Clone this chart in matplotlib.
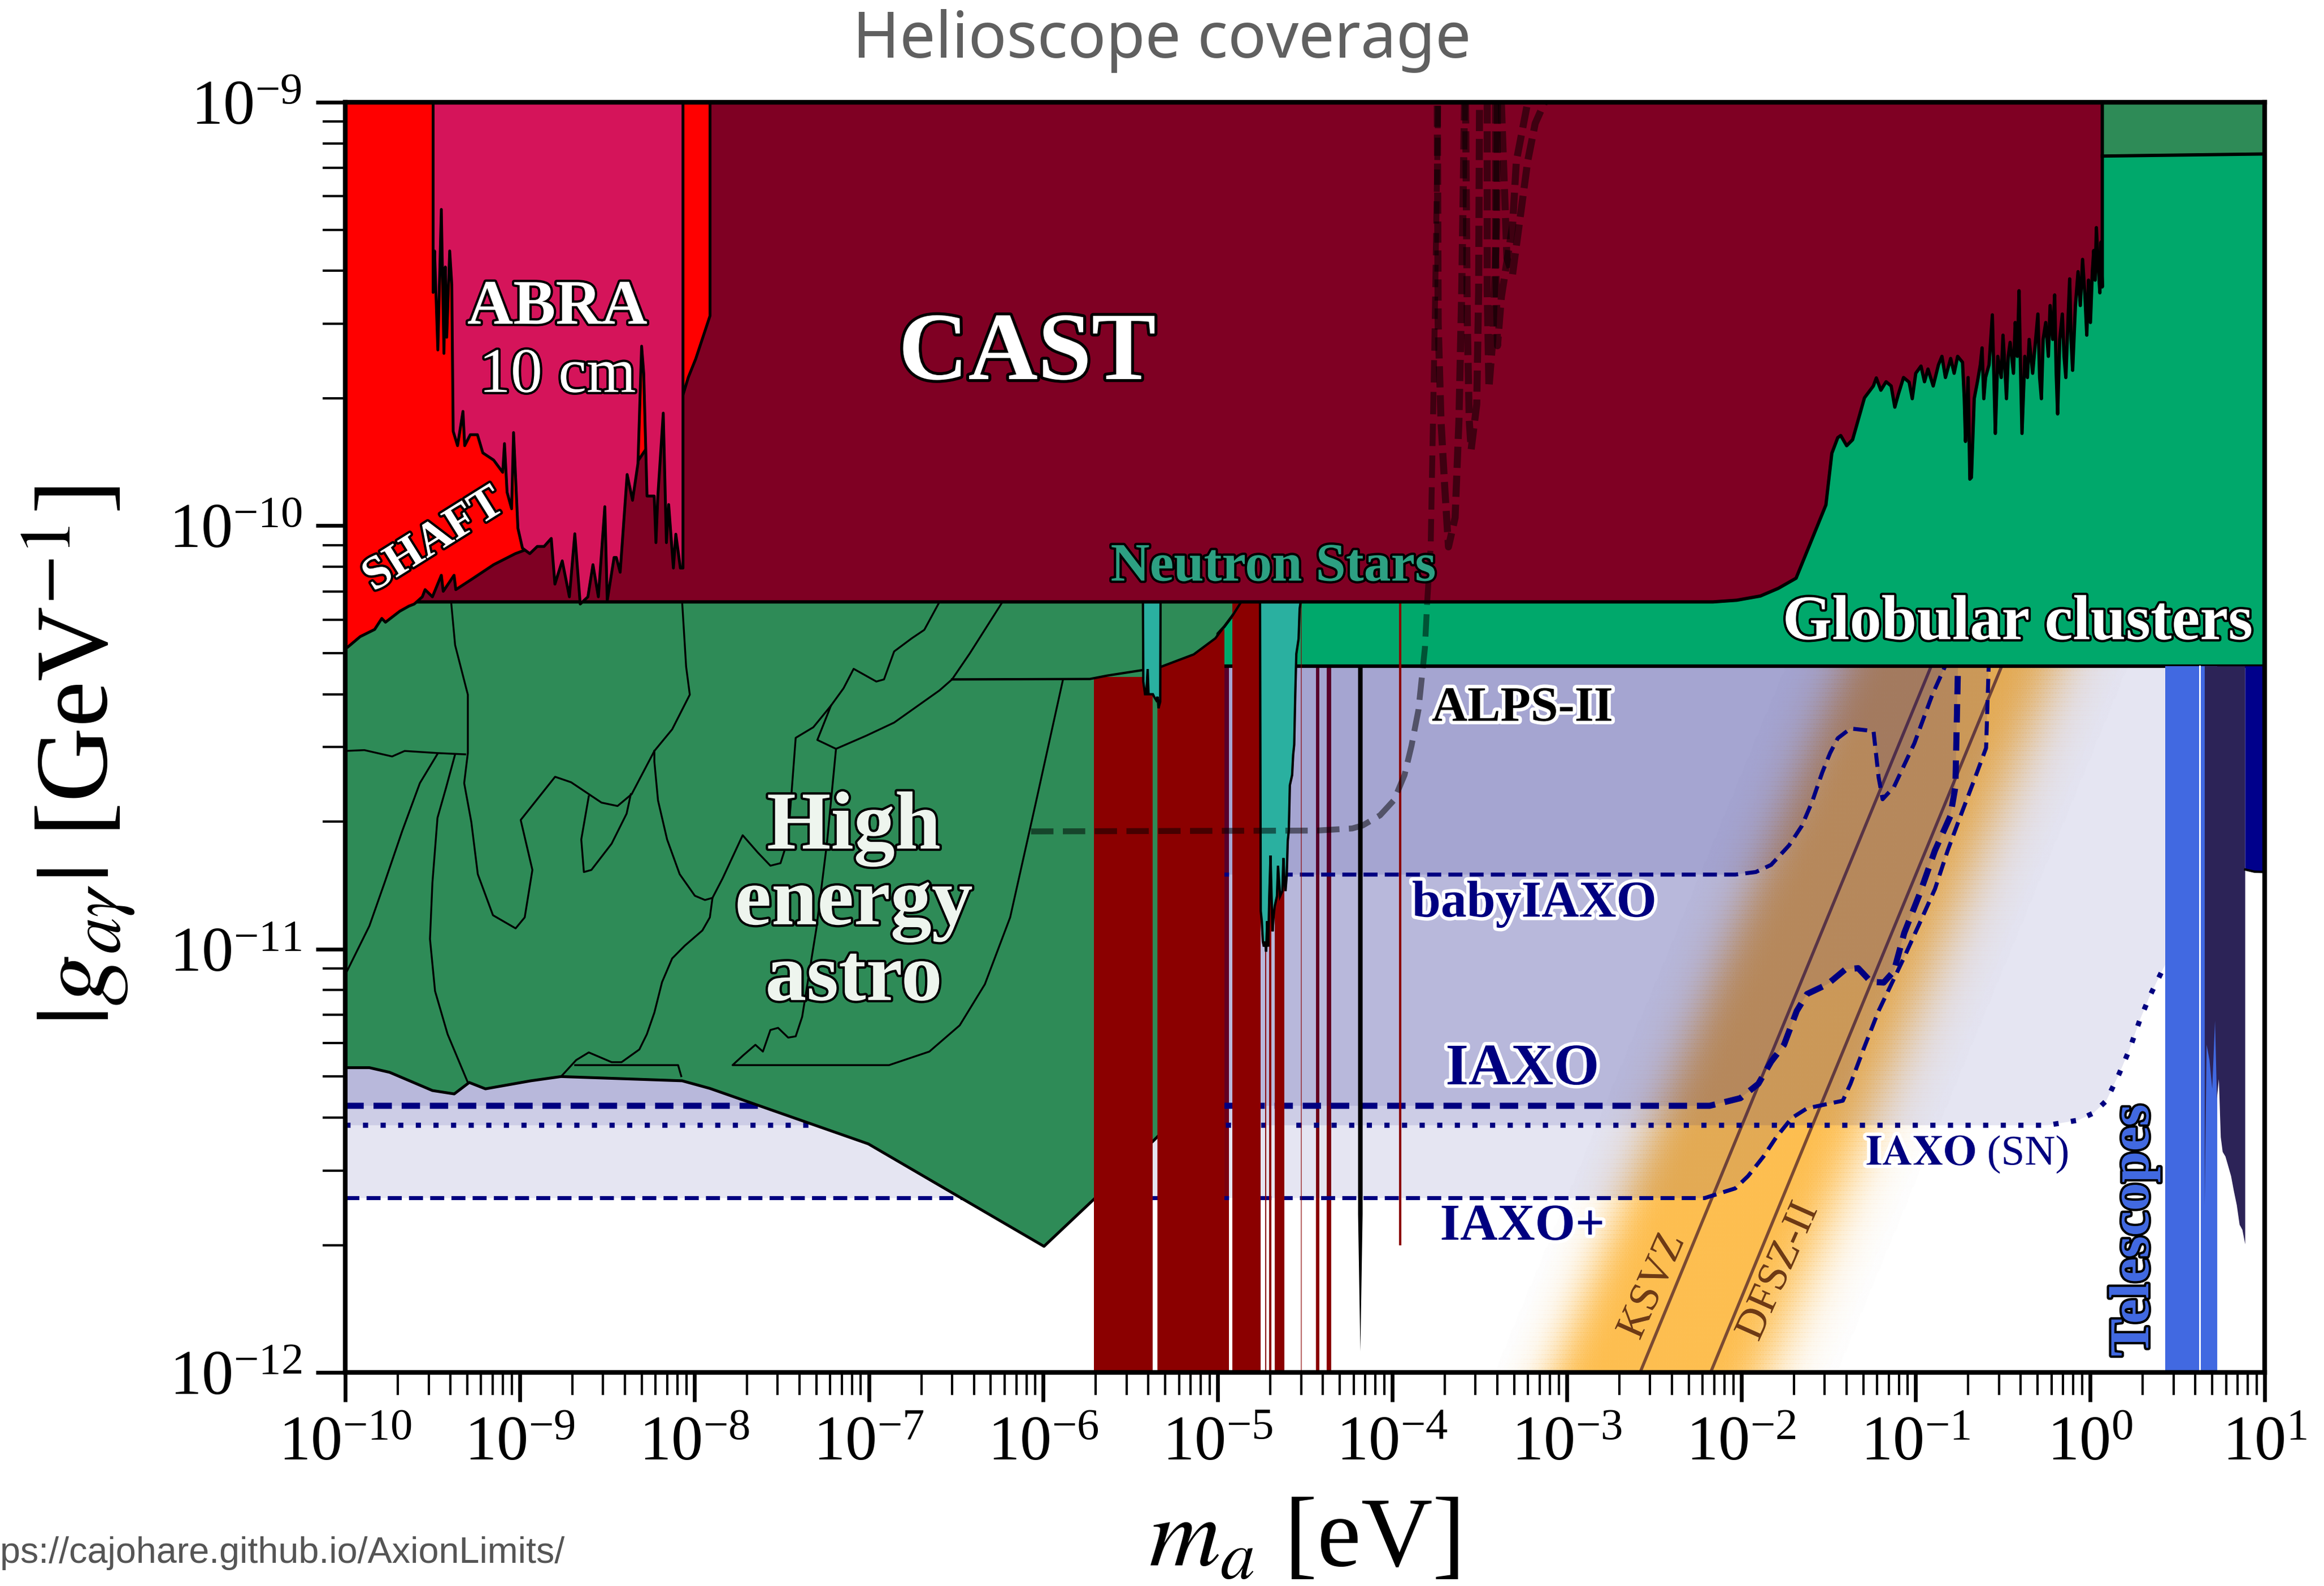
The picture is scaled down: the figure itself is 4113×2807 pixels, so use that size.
import numpy as np
import matplotlib.pyplot as plt
import matplotlib.patheffects as pe
from matplotlib.colors import LinearSegmentedColormap
from matplotlib.ticker import LogLocator

plt.rcParams['font.family'] = 'serif'
plt.rcParams['font.serif'] = ['Liberation Serif', 'DejaVu Serif']
plt.rcParams['mathtext.fontset'] = 'stix'

# every number below is log10(m_a / eV), log10(|g_ag| / GeV^-1)
G_TOP = -9.0
G_BOT = -12.0
CAST_FLOOR = -10.18
GC_FLOOR = -10.332

shaft = [(-10.0, -10.29), (-9.987, -10.287), (-9.915, -10.262), (-9.832, -10.245), (-9.791, -10.219),
         (-9.770, -10.228), (-9.688, -10.202), (-9.636, -10.190), (-9.605, -10.185), (-9.559, -10.168),
         (-9.543, -10.151), (-9.501, -10.168), (-9.450, -10.117), (-9.439, -10.155), (-9.377, -10.117),
         (-9.367, -10.151), (-9.274, -10.126), (-9.150, -10.092), (-9.026, -10.066), (-8.974, -10.058),
         (-8.654, -9.981), (-8.333, -9.853), (-8.065, -9.691), (-8.034, -9.649), (-7.992, -9.606),
         (-7.951, -9.555), (-7.910, -9.504)]

abra = [(-9.497, -9.449), (-9.489, -9.351), (-9.470, -9.585), (-9.450, -9.253), (-9.435, -9.593),
        (-9.427, -9.389), (-9.419, -9.555), (-9.402, -9.351), (-9.390, -9.430), (-9.382, -9.777),
        (-9.357, -9.811), (-9.326, -9.730), (-9.316, -9.811), (-9.284, -9.785), (-9.243, -9.785),
        (-9.212, -9.828), (-9.150, -9.845), (-9.098, -9.874), (-9.088, -9.806), (-9.073, -9.921),
        (-9.047, -9.960), (-9.036, -9.780), (-9.011, -10.006), (-8.985, -10.053), (-8.943, -10.066),
        (-8.900, -10.049), (-8.861, -10.049), (-8.820, -10.030), (-8.799, -10.138), (-8.757, -10.083),
        (-8.716, -10.168), (-8.685, -10.019), (-8.654, -10.185), (-8.610, -10.168), (-8.581, -10.092),
        (-8.550, -10.168), (-8.513, -9.955), (-8.499, -10.177), (-8.460, -10.075), (-8.447, -10.075),
        (-8.425, -10.110), (-8.385, -9.879), (-8.354, -9.940), (-8.323, -9.853), (-8.302, -9.576),
        (-8.290, -9.640), (-8.271, -9.930), (-8.230, -9.930), (-8.220, -10.040), (-8.209, -9.930),
        (-8.178, -9.734), (-8.160, -10.040), (-8.147, -9.950), (-8.120, -10.100), (-8.106, -10.020),
        (-8.080, -10.100), (-8.065, -10.100)]

cast = [(-10.0, CAST_FLOOR), (-2.163, CAST_FLOOR), (-2.026, -10.176), (-1.89, -10.166), (-1.788, -10.148),
        (-1.686, -10.124), (-1.515, -9.951), (-1.481, -9.829), (-1.447, -9.792), (-1.430, -9.787),
        (-1.396, -9.811), (-1.362, -9.797), (-1.294, -9.698), (-1.243, -9.670), (-1.226, -9.651),
        (-1.20, -9.680), (-1.17, -9.660), (-1.141, -9.670), (-1.12, -9.720), (-1.10, -9.690),
        (-1.07, -9.650), (-1.038, -9.661), (-1.02, -9.700), (-1.00, -9.640), (-0.970, -9.623),
        (-0.95, -9.660), (-0.93, -9.630), (-0.90, -9.670), (-0.87, -9.620), (-0.85, -9.600),
        (-0.83, -9.650), (-0.800, -9.605), (-0.78, -9.640), (-0.76, -9.600), (-0.732, -9.614),
        (-0.722, -9.700), (-0.715, -9.801), (-0.700, -9.650), (-0.690, -9.890), (-0.681, -9.886),
        (-0.665, -9.700), (-0.647, -9.661), (-0.63, -9.620), (-0.62, -9.580), (-0.61, -9.700),
        (-0.60, -9.650), (-0.58, -9.620), (-0.561, -9.502), (-0.552, -9.650), (-0.544, -9.782),
        (-0.53, -9.600), (-0.51, -9.650), (-0.50, -9.550), (-0.49, -9.620), (-0.48, -9.700),
        (-0.470, -9.600), (-0.459, -9.567), (-0.44, -9.640), (-0.43, -9.520), (-0.418, -9.600),
        (-0.408, -9.445), (-0.40, -9.620), (-0.391, -9.782), (-0.375, -9.600), (-0.36, -9.650),
        (-0.35, -9.560), (-0.33, -9.640), (-0.30, -9.500), (-0.29, -9.650), (-0.28, -9.700),
        (-0.27, -9.560), (-0.255, -9.520), (-0.24, -9.600), (-0.23, -9.480), (-0.215, -9.560),
        (-0.204, -9.455), (-0.195, -9.640), (-0.187, -9.736), (-0.175, -9.560), (-0.16, -9.500),
        (-0.15, -9.600), (-0.14, -9.650), (-0.128, -9.520), (-0.118, -9.417), (-0.110, -9.560),
        (-0.101, -9.633), (-0.085, -9.480), (-0.07, -9.400), (-0.057, -9.480), (-0.044, -9.371),
        (-0.03, -9.460), (-0.02, -9.550), (-0.01, -9.420), (0.001, -9.520), (0.012, -9.400),
        (0.02, -9.350), (0.028, -9.420), (0.035, -9.296), (0.045, -9.380), (0.055, -9.450),
        (0.062, -9.330), (0.069, -9.436)]

he_lower = [(-10.0, -11.280), (-9.862, -11.280), (-9.746, -11.291), (-9.501, -11.334), (-9.376, -11.342),
            (-9.290, -11.315), (-9.197, -11.330), (-8.937, -11.311), (-8.764, -11.301), (-8.070, -11.311),
            (-7.911, -11.329), (-7.003, -11.460), (-5.996, -11.702), (-5.708, -11.590), (-5.355, -11.447),
            (-5.0, -11.30), (-5.0, -10.255), (-4.962, -10.238), (-4.915, -10.212), (-4.866, CAST_FLOOR)]

# black contour lines of the individual high-energy-astro limits
he_contours = [
    [(-9.394, -10.179), (-9.371, -10.282), (-9.298, -10.399), (-9.298, -10.537), (-9.319, -10.608),
     (-9.278, -10.700), (-9.241, -10.823), (-9.154, -10.920), (-9.024, -10.951), (-8.972, -10.925),
     (-8.928, -10.813), (-8.995, -10.695), (-8.798, -10.593), (-8.706, -10.606), (-8.532, -10.654),
     (-8.440, -10.662), (-8.359, -10.634), (-8.229, -10.532), (-8.127, -10.481), (-8.026, -10.399),
     (-8.047, -10.333), (-8.070, -10.179)],
    [(-10.0, -10.532), (-9.891, -10.530), (-9.732, -10.545), (-9.660, -10.532), (-9.472, -10.537),
     (-9.313, -10.540)],
    [(-9.472, -10.539), (-9.573, -10.608), (-9.674, -10.721), (-9.775, -10.843), (-9.862, -10.945),
     (-10.0, -11.06)],
    [(-9.371, -10.540), (-9.423, -10.619), (-9.472, -10.690), (-9.501, -10.843), (-9.515, -10.976),
     (-9.486, -11.099), (-9.414, -11.201), (-9.298, -11.315)],
    [(-8.229, -10.532), (-8.229, -10.557), (-8.208, -10.649), (-8.156, -10.741), (-8.084, -10.823),
     (-7.997, -10.874), (-7.939, -10.884), (-7.896, -10.879), (-7.911, -10.925), (-7.954, -10.956),
     (-8.055, -10.992), (-8.127, -11.022), (-8.185, -11.078), (-8.229, -11.150), (-8.272, -11.201),
     (-8.315, -11.237), (-8.417, -11.267), (-8.474, -11.267), (-8.605, -11.244), (-8.677, -11.262),
     (-8.764, -11.301)],
    [(-7.896, -10.879), (-7.838, -10.833), (-7.723, -10.731), (-7.636, -10.772), (-7.564, -10.803),
     (-7.506, -10.797), (-7.463, -10.741), (-7.419, -10.501), (-7.318, -10.476), (-7.217, -10.425)],
    [(-8.605, -10.639), (-8.648, -10.741), (-8.633, -10.818), (-8.590, -10.813), (-8.474, -10.751),
     (-8.388, -10.680), (-8.364, -10.634)],
    [(-6.234, CAST_FLOOR), (-6.422, -10.302), (-6.523, -10.363), (-6.595, -10.389), (-6.855, -10.465),
     (-7.015, -10.496), (-7.188, -10.527), (-7.295, -10.506), (-7.217, -10.425), (-7.145, -10.384),
     (-7.087, -10.338), (-6.957, -10.368), (-6.913, -10.363), (-6.855, -10.297), (-6.754, -10.266),
     (-6.682, -10.246), (-6.595, CAST_FLOOR)],
    [(-5.887, -10.363), (-6.046, -10.660), (-6.190, -10.925), (-6.335, -11.083), (-6.479, -11.180),
     (-6.653, -11.242), (-6.884, -11.274), (-7.781, -11.274), (-7.723, -11.252), (-7.650, -11.226),
     (-7.607, -11.242), (-7.564, -11.191), (-7.520, -11.186), (-7.462, -11.209), (-7.419, -11.206),
     (-7.382, -11.160), (-7.30, -10.95), (-7.24, -10.75), (-7.188, -10.527)],
    [(-8.683, -11.274), (-8.093, -11.274), (-8.075, -11.300)],
    [(-6.523, -10.363), (-5.733, -10.362), (-5.634, -10.354), (-5.337, -10.335), (-5.138, -10.304),
     (-5.014, -10.266), (-4.915, -10.212), (-4.866, CAST_FLOOR)],
]

gc_corner = [(0.069, -9.127), (1.0, -9.122)]

# haloscope exclusions (vertical bars): low edge, high edge, top
front_lo = [-5.711, -4.918, -4.729, -4.705, -4.674]
front_hi = [-5.374, -4.754, -4.723, -4.692, -4.618]
front_top = [-10.357, CAST_FLOOR, -10.6, -10.6, -10.6]
bar_b = [(-5.346, G_BOT), (-4.962, G_BOT), (-4.962, -10.238), (-5.014, -10.266),
         (-5.138, -10.304), (-5.346, -10.336)]
back_lo = [-4.962, -4.438, -4.376]
back_hi = [-4.936, -4.417, -4.351]
spike = [(-4.196, GC_FLOOR), (-4.196, -11.626), (-4.183, -11.95), (-4.170, -11.626), (-4.170, GC_FLOOR)]
thin_red = [(-3.955, CAST_FLOOR), (-3.955, -11.697)]

ns1 = [(-5.429, CAST_FLOOR), (-5.427, -10.368), (-5.417, -10.398), (-5.410, -10.398), (-5.402, -10.339),
       (-5.397, -10.398), (-5.372, -10.398), (-5.365, -10.404), (-5.353, -10.412), (-5.345, -10.404),
       (-5.340, -10.431), (-5.330, -10.416), (-5.328, CAST_FLOOR)]
ns2 = [(-4.758, CAST_FLOOR), (-4.754, -10.910), (-4.748, -10.934), (-4.742, -10.982), (-4.736, -10.994),
       (-4.729, -10.982), (-4.723, -11.006), (-4.717, -10.934), (-4.711, -10.994), (-4.705, -10.875),
       (-4.698, -10.779), (-4.692, -10.875), (-4.686, -10.958), (-4.680, -10.922), (-4.674, -10.899),
       (-4.661, -10.875), (-4.655, -10.803), (-4.643, -10.875), (-4.630, -10.863), (-4.624, -10.785),
       (-4.618, -10.839), (-4.612, -10.863), (-4.605, -10.827), (-4.599, -10.744), (-4.593, -10.720),
       (-4.587, -10.613), (-4.574, -10.589), (-4.568, -10.541), (-4.562, -10.517), (-4.556, -10.398),
       (-4.550, -10.303), (-4.537, -10.267), (-4.531, -10.196), (-4.525, CAST_FLOOR)]

alps = [(-6.07, -10.722), (-4.43, -10.720), (-4.23, -10.715), (-4.17, -10.708), (-4.07, -10.684),
        (-3.99, -10.648), (-3.93, -10.589), (-3.89, -10.52), (-3.85, -10.435), (-3.813, -10.289),
        (-3.80, -10.18), (-3.78, -10.05), (-3.76, -9.6), (-3.737, -9.0)]

halo_proj = [
    [(-3.742, -9.008), (-3.737, -9.522), (-3.721, -9.751), (-3.700, -9.905), (-3.678, -10.050),
     (-3.640, -9.981), (-3.618, -9.751), (-3.602, -9.445), (-3.591, -9.139), (-3.586, -9.0)],
    [(-3.580, -9.0), (-3.570, -9.522), (-3.559, -9.751), (-3.548, -9.820), (-3.516, -9.713),
     (-3.505, -9.445), (-3.500, -9.0)],
    [(-3.456, -9.0), (-3.456, -9.445), (-3.446, -9.675), (-3.424, -9.560), (-3.402, -9.292), (-3.397, -9.0)],
    [(-3.408, -9.0), (-3.408, -9.368), (-3.397, -9.575), (-3.375, -9.460), (-3.311, -9.292),
     (-3.289, -9.139), (-3.224, -9.0)],
    [(-3.375, -9.0), (-3.343, -9.368), (-3.311, -9.407), (-3.224, -9.139), (-3.181, -9.050), (-3.127, -9.0)],
]

iaxo = [(-10.0, -11.370), (-2.181, -11.370), (-2.005, -11.352), (-1.902, -11.318), (-1.829, -11.266),
        (-1.755, -11.226), (-1.682, -11.146), (-1.623, -11.106), (-1.506, -11.083), (-1.404, -11.048),
        (-1.330, -11.045), (-1.257, -11.077), (-1.184, -11.079), (-1.125, -11.052), (-1.066, -10.962),
        (-0.978, -10.870), (-0.890, -10.767), (-0.802, -10.686), (-0.773, -10.617), (-0.758, GC_FLOOR)]
baby_iaxo = [(-10.0, -10.824), (-2.034, -10.824), (-1.917, -10.818), (-1.829, -10.801), (-1.726, -10.755),
             (-1.653, -10.709), (-1.594, -10.652), (-1.536, -10.583), (-1.491, -10.537), (-1.447, -10.502),
             (-1.374, -10.479), (-1.242, -10.485), (-1.213, -10.594), (-1.190, -10.646), (-1.125, -10.617),
             (-1.008, -10.514), (-0.905, -10.399), (-0.832, GC_FLOOR)]
iaxo_plus = [(-10.0, -11.588), (-2.210, -11.588), (-2.034, -11.565), (-1.961, -11.536), (-1.873, -11.490),
             (-1.799, -11.444), (-1.711, -11.399), (-1.623, -11.376), (-1.418, -11.358), (-1.374, -11.318),
             (-1.301, -11.238), (-1.213, -11.146), (-1.140, -11.083), (-1.066, -11.019), (-0.978, -10.939),
             (-0.890, -10.858), (-0.817, -10.767), (-0.744, -10.686), (-0.670, -10.606), (-0.597, -10.525),
             (-0.582, GC_FLOOR)]
iaxo_sn = [(-10.0, -11.416), (-0.245, -11.416), (-0.069, -11.404), (0.019, -11.387), (0.092, -11.358),
           (0.165, -11.295), (0.224, -11.238), (0.283, -11.169), (0.341, -11.111), (0.429, -11.037)]

# QCD axion lines: two points each (m in eV, g in GeV^-1)
ksvz_m, ksvz_g = [2.63e-3, 0.1226], [1e-12, 4.66e-11]
dfsz_m, dfsz_g = [6.67e-3, 0.311], [1e-12, 4.66e-11]

tele_blue = (0.429, 0.726)
tele_gap = 0.627
tele_dark = [(0.656, -11.605), (0.667, -11.226), (0.683, -11.261), (0.699, -11.330), (0.715, -11.169),
             (0.726, -11.353), (0.737, -11.307), (0.748, -11.444), (0.759, -11.479), (0.775, -11.490),
             (0.791, -11.513), (0.807, -11.536), (0.823, -11.571), (0.840, -11.605), (0.856, -11.651),
             (0.872, -11.663), (0.888, -11.697)]
tele_navy = [(0.888, -10.812), (0.94, -10.817), (1.0, -10.818)]


def xy(pts):
    a = np.array(pts, dtype=float)
    return 10 ** a[:, 0], 10 ** a[:, 1]


def fill_above(pts, top, color, z, **kw):
    pts = list(pts) + [(pts[-1][0], top), (pts[0][0], top)]
    x, y = xy(pts)
    ax.fill(x, y, color=color, lw=0, zorder=z, **kw)


def line(pts, **kw):
    x, y = xy(pts)
    ax.plot(x, y, **kw)


fig = plt.figure(figsize=(4113 / 300, 2807 / 300), dpi=300)
ax = fig.add_axes([0.1486, 0.1346, 0.8259, 0.8009])
ax.set_xscale('log')
ax.set_yscale('log')

# QCD band (drawn first, the projection shading goes on top of it)
lm = np.linspace(-4.0, 0.3, 500)
lg = np.linspace(G_BOT, GC_FLOOR, 160)
LM, LG = np.meshgrid(lm, lg)
logc_k = np.log10(ksvz_g[0]) - np.log10(ksvz_m[0])
logc_d = np.log10(dfsz_g[0]) - np.log10(dfsz_m[0])
u = LM - (LG - logc_k)
w = logc_k - logc_d
inten = np.where(u < -0.2, np.exp(-((u + 0.2) / 0.27) ** 2),
                 np.where(u > w - 0.05, np.exp(-((u - w + 0.05) / 0.33) ** 2), 1.0))
band_cmap = LinearSegmentedColormap.from_list('band', [(0.992, 0.745, 0.31, 0.0), (0.992, 0.745, 0.31, 0.95)])
ax.pcolormesh(10 ** LM, 10 ** LG, inten, cmap=band_cmap, vmin=0, vmax=1, shading='gouraud', zorder=0.5)
ax.plot(ksvz_m, ksvz_g, color='#7b4a32', lw=1.3, zorder=0.6)
ax.plot(dfsz_m, dfsz_g, color='#7b4a32', lw=1.3, zorder=0.6)

for lo, hi in zip(back_lo, back_hi):
    fill_above([(lo, G_BOT), (hi, G_BOT)], GC_FLOOR, '#8b0000', 0.7)

# future helioscope projections
for curve in [iaxo_plus, iaxo_sn, iaxo, baby_iaxo]:
    fill_above(curve, GC_FLOOR, 'navy', 1.0, alpha=0.1)
line(iaxo, color='navy', lw=2.6, dashes=(3, 1.6), zorder=1.5)
line(baby_iaxo, color='navy', lw=1.7, dashes=(3.5, 1.8), zorder=1.5)
line(iaxo_plus, color='navy', lw=1.7, dashes=(3.5, 1.8), zorder=1.5)
line(iaxo_sn, color='navy', lw=2.2, dashes=(1, 2.4), zorder=1.5)

# globular clusters
fill_above([(-10.0, GC_FLOOR), (1.0, GC_FLOOR)], G_TOP, '#00a86b', 2.0)
line([(-10.0, GC_FLOOR), (1.0, GC_FLOOR)], color='k', lw=1.5, zorder=2.05)

# high energy astro
fill_above(he_lower, G_TOP, '#2e8b57', 2.5)
line(he_lower, color='k', lw=1.2, zorder=2.55)
for c in he_contours[:-1]:
    line(c, color='k', lw=0.8, zorder=2.55)

# haloscope bars
for lo, hi, top in zip(front_lo, front_hi, front_top):
    fill_above([(lo, G_BOT), (hi, G_BOT)], top, '#8b0000', 3.0)
xb, yb = xy(bar_b)
ax.fill(xb, yb, color='#8b0000', lw=0, zorder=3.0)
line(he_contours[-1], color='k', lw=1.0, zorder=3.1)
line([(-4.522, G_BOT), (-4.522, CAST_FLOOR)], color='#8b0000', lw=0.4, alpha=0.7, zorder=3.0)
line(thin_red, color='#8b0000', lw=1.0, zorder=3.0)
xs, ys = xy(spike)
ax.fill(xs, ys, color='k', lw=0, zorder=3.0)

# neutron stars
for ns in [ns1, ns2]:
    xn, yn = xy(ns)
    ax.fill(xn, yn, facecolor='#2ab0a0', edgecolor='k', lw=1.0, zorder=3.5)

# telescopes
fill_above([(tele_blue[0], G_BOT), (tele_blue[1], G_BOT)], GC_FLOOR, '#4169e1', 3.0)
line([(tele_gap, G_BOT), (tele_gap, GC_FLOOR)], color='white', lw=0.7, zorder=3.05)
fill_above(tele_dark, GC_FLOOR, '#2c2357', 3.1)
fill_above(tele_navy, GC_FLOOR, '#00008b', 3.1)
line(tele_navy, color='k', lw=1.0, zorder=3.15)

# CAST and the top-right corner
fill_above(cast, G_TOP, '#7f0023', 4.0)
line(cast + [(cast[-1][0], G_TOP)], color='k', lw=1.4, zorder=4.05)
fill_above(gc_corner, G_TOP, '#2e8b57', 4.0)
line(gc_corner, color='k', lw=1.4, zorder=4.05)

# SHAFT and ABRA
fill_above(shaft, G_TOP, '#ff0000', 4.2)
line(shaft + [(shaft[-1][0], G_TOP)], color='k', lw=1.2, zorder=4.25)
fill_above(abra, G_TOP, '#d5145a', 4.4)
line([(abra[0][0], G_TOP)] + abra + [(abra[-1][0], G_TOP)], color='k', lw=1.2, zorder=4.45)

# ALPS-II and projected haloscopes (half transparent black dashes)
line(alps, color='k', alpha=0.5, lw=2.5, dashes=(3.8, 1.6), zorder=5)
for c in halo_proj:
    line(c, color='k', alpha=0.5, lw=3.0, dashes=(3.0, 1.1), zorder=5)

ax.set_xlim(1e-10, 1e1)
ax.set_ylim(1e-12, 1e-9)
ax.xaxis.set_major_locator(LogLocator(base=10, numticks=20))
ax.xaxis.set_minor_locator(LogLocator(base=10, subs=np.arange(2, 10), numticks=20))
for sp in ax.spines.values():
    sp.set_linewidth(2.0)
    sp.set_zorder(20)
ax.tick_params(which='major', direction='out', length=12.5, width=1.6, labelsize=27, pad=6,
               top=False, right=False)
ax.tick_params(which='minor', direction='out', length=9.5, width=1.0, top=False, right=False)


def label(lm_, lg_, s, size, color, stroke='k', sw=2.0, rot=0, weight='bold', **kw):
    t = ax.text(10 ** lm_, 10 ** lg_, s, fontsize=size, color=color, rotation=rot, fontweight=weight,
                ha='center', va='center', zorder=30, **kw)
    t.set_path_effects([pe.withStroke(linewidth=sw, foreground=stroke)])


label(-6.092, -9.599, 'CAST', 41, 'white', sw=2.5)
label(-8.785, -9.487, 'ABRA', 27, 'white')
label(-8.785, -9.648, '10 cm', 27, 'white', weight='normal')
label(-9.49, -10.036, 'SHAFT', 20, 'white', rot=32)
label(-4.681, -10.099, 'Neutron Stars', 23, '#2da082')
label(-0.416, -10.232, 'Globular clusters', 27, 'white')
label(-7.086, -10.894, 'High\nenergy\nastro', 35, '#eef5ee', linespacing=1.0)
label(-3.254, -10.432, 'ALPS-II', 21, 'black', stroke='white', sw=3)
label(-3.186, -10.894, 'babyIAXO', 22, 'navy', stroke='white', sw=3)
label(-3.254, -11.286, 'IAXO', 25, 'navy', stroke='white', sw=3)
label(-3.254, -11.657, 'IAXO+', 22, 'navy', stroke='white', sw=3)
label(-0.705, -11.485, r'$\mathbf{IAXO}$ (SN)', 18, 'navy', stroke='white', sw=3, weight='normal')
label(-2.506, -11.797, 'KSVZ', 18, '#6e3a14', stroke='#fdd28a', sw=0.1, rot=66, weight='normal')
label(-1.784, -11.762, 'DFSZ-II', 18, '#6e3a14', stroke='#fdd28a', sw=0.1, rot=66, weight='normal')
label(0.255, -11.664, 'Telescopes', 24, '#4169e1', rot=90)

fig.text(0.561, 0.028, r'$m_a$ [eV]', fontsize=42, ha='center', va='center')
fig.text(0.034, 0.5234, r'$|g_{a\gamma}|$ [GeV$^{-1}$]', fontsize=44, ha='center', va='center', rotation=90)
fig.text(0.5, 0.974, 'Helioscope coverage', fontsize=27, color='#606060', ha='center', va='center',
         family='Noto Sans')
# the reference crops the start of this address at the left edge
fig.text(0.243, 0.0206, 'https://cajohare.github.io/AxionLimits/', fontsize=15.5, color='#555555',
         ha='right', va='center', family='Liberation Sans')

fig.savefig('out.png', dpi=300)
